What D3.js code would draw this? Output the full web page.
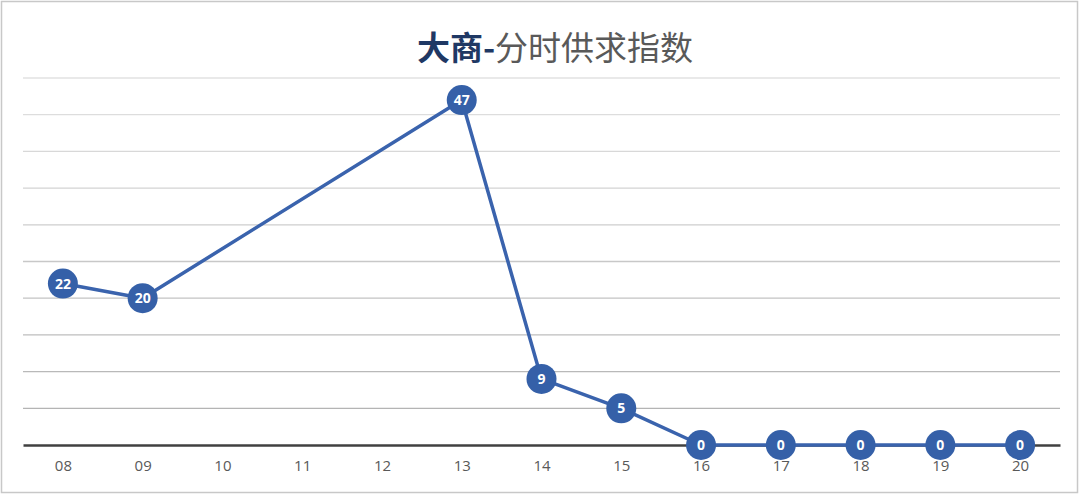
<!DOCTYPE html>
<html>
<head>
<meta charset="utf-8">
<script src="https://cdn.jsdelivr.net/npm/d3@7"></script>
<style>
  body { margin: 0; background: #fff; }
  text { font-family: "Noto Sans CJK SC", "Noto Sans", sans-serif; }
</style>
</head>
<body>
<div id="chart"></div>
<script>
// data
const hours = ["08", "09", "10", "11", "12", "13", "14", "15", "16", "17", "18", "19", "20"];
const values = [22, 20, null, null, null, 47, 9, 5, 0, 0, 0, 0, 0];
const yTicks = [0, 5, 10, 15, 20, 25, 30, 35, 40, 45, 50];

const W = 1080, H = 495;
const margin = { top: 78, right: 20, bottom: 50, left: 23 },
      width = W - margin.left - margin.right,
      height = H - margin.top - margin.bottom;

const svg = d3.select("#chart").append("svg")
    .attr("width", W)
    .attr("height", H);

// outer frame
svg.append("rect")
    .attr("x", 1.5).attr("y", 1.5)
    .attr("width", W - 4).attr("height", H - 4)
    .attr("fill", "#fff")
    .attr("stroke", "#c8c8c8")
    .attr("stroke-width", 1.5);

// title
const title = svg.append("text")
    .attr("x", 555)
    .attr("y", 60)
    .attr("text-anchor", "middle")
    .style("font-size", "33px");
title.append("tspan").attr("fill", "#1f3864").attr("font-weight", "bold").text("大商-");
title.append("tspan").attr("fill", "#595959").text("分时供求指数");

const g = svg.append("g").attr("transform", `translate(${margin.left},${margin.top})`);

const x = d3.scalePoint().domain(hours).range([0, width]).padding(0.5);
const y = d3.scaleLinear().domain([0, 50]).range([height, 0]);

// gridlines, a bit lighter towards the top
const gridColor = d3.scaleLinear().domain([50, 5]).range(["#e2e2e2", "#b4b4b4"]);
g.selectAll(".grid")
    .data(yTicks.filter(t => t > 0))
    .enter().append("line")
    .attr("x1", 0).attr("x2", width)
    .attr("y1", d => y(d)).attr("y2", d => y(d))
    .attr("stroke", d => gridColor(d))
    .attr("stroke-width", 1.3);

// x axis
const xAxis = g.append("g")
    .attr("transform", `translate(0,${height})`)
    .call(d3.axisBottom(x).tickSize(0).tickPadding(15));
xAxis.select(".domain").attr("stroke", "#404040").attr("stroke-width", 2.5);
xAxis.selectAll("text")
    .attr("fill", "#595959")
    .style("font-size", "15px")
    .style("font-family", "'Open Sans', 'Noto Sans', sans-serif");

// series
const pts = hours.map((h, i) => ({ h: h, v: values[i] })).filter(d => d.v !== null);

const line = d3.line().x(d => x(d.h)).y(d => y(d.v));
g.append("path")
    .datum(pts)
    .attr("d", line)
    .attr("fill", "none")
    .attr("stroke", "#3a63ad")
    .attr("stroke-width", 3.5)
    .attr("stroke-linejoin", "round");

g.selectAll(".dot")
    .data(pts)
    .enter().append("circle")
    .attr("cx", d => x(d.h))
    .attr("cy", d => y(d.v))
    .attr("r", 15)
    .attr("fill", "#3560a8");

g.selectAll(".lbl")
    .data(pts)
    .enter().append("text")
    .attr("x", d => x(d.h))
    .attr("y", d => y(d.v))
    .attr("dy", "0.36em")
    .attr("text-anchor", "middle")
    .attr("fill", "#fff")
    .attr("font-weight", "bold")
    .style("font-size", "14px")
    .style("font-family", "'Open Sans', 'Noto Sans', sans-serif")
    .text(d => d.v);
</script>
</body>
</html>
